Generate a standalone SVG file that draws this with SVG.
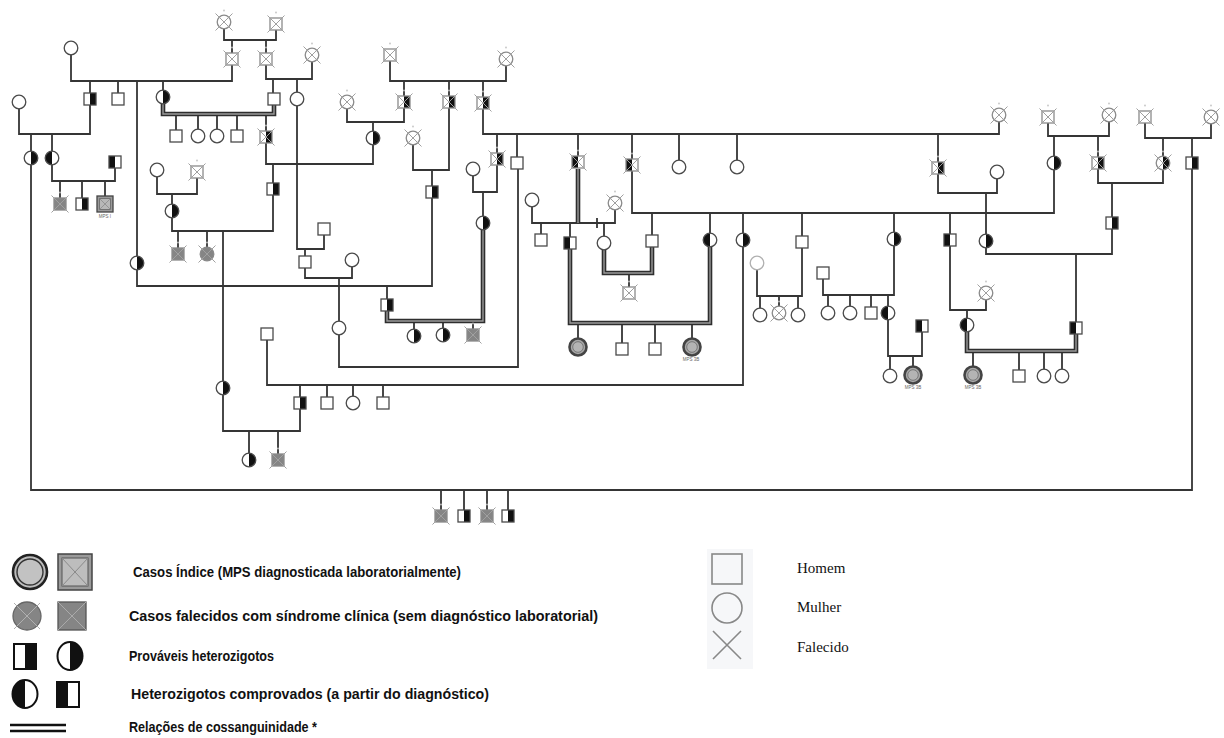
<svg xmlns="http://www.w3.org/2000/svg" width="1224" height="738" viewBox="0 0 1224 738">
<style>
.l{fill:none;stroke:#353535;stroke-width:1.8}
.cg1{fill:none;stroke:#2e2e2e;stroke-width:4.6}
.cg2{fill:none;stroke:#9a9a9a;stroke-width:1.4}
.lv{stroke:#4a4a4a}
.dc{stroke:#8a8a8a}
.lt{stroke:#b0b0b0}
.lg{font-family:"Liberation Sans",Arial,sans-serif;font-weight:bold;font-size:15.5px;fill:#111}
.lr{font-family:"Liberation Serif","Times New Roman",serif;font-size:15px;fill:#111}
.mps{font-family:"Liberation Sans",Arial,sans-serif;font-size:4.5px;fill:#666;text-anchor:middle}
</style>
<defs>
<g id="M"><rect x="-6" y="-6" width="12" height="12" fill="#fff" stroke-width="1.3"/></g>
<g id="Mh"><rect x="-6" y="-6" width="12" height="12" fill="#fff" stroke="none"/><rect x="0" y="-6" width="6" height="12" fill="#111" stroke="none"/><rect x="-6" y="-6" width="12" height="12" fill="none" stroke-width="1.3"/></g>
<g id="Mp"><rect x="-6" y="-6" width="12" height="12" fill="#fff" stroke="none"/><rect x="-6" y="-6" width="6" height="12" fill="#111" stroke="none"/><rect x="-6" y="-6" width="12" height="12" fill="none" stroke-width="1.3"/></g>
<g id="F"><circle r="6.8" fill="#fff" stroke-width="1.3"/></g>
<g id="Fh"><circle r="6.8" fill="#fff" stroke="none"/><path d="M0,-6.8A6.8,6.8 0 0 1 0,6.8Z" fill="#111" stroke="none"/><circle r="6.8" fill="none" stroke-width="1.3"/></g>
<g id="Fp"><circle r="6.8" fill="#fff" stroke="none"/><path d="M0,-6.8A6.8,6.8 0 0 0 0,6.8Z" fill="#111" stroke="none"/><circle r="6.8" fill="none" stroke-width="1.3"/></g>
<g id="Mg"><rect x="-6" y="-6" width="12" height="12" fill="#858585" stroke-width="1.3"/></g>
<g id="Fg"><circle r="6.8" fill="#858585" stroke-width="1.3"/></g>
<g id="X"><path d="M-8.5,-8.5L8.5,8.5M8.5,-8.5L-8.5,8.5" fill="none" stroke="#a0a0a0" stroke-width="1"/><circle cy="-11.5" r="0.9" fill="#c4c4c4" stroke="none"/></g>
<g id="Mi"><rect x="-8" y="-8" width="16" height="16" fill="#9a9a9a" stroke="#444" stroke-width="1.3"/><rect x="-5.5" y="-5.5" width="11" height="11" fill="#b8b8b8" stroke="#666" stroke-width="0.8"/><path d="M-5.5,-5.5L5.5,5.5M5.5,-5.5L-5.5,5.5" fill="none" stroke="#8a8a8a" stroke-width="0.8"/></g>
<g id="Fi"><circle r="8.5" fill="#a8a8a8" stroke="#444" stroke-width="2.6"/><circle r="5.3" fill="#b4b4b4" stroke="#6a6a6a" stroke-width="0.8"/></g>
</defs>
<rect width="1224" height="738" fill="#fff"/>

<g id="connectors">
<path class="l" d="M224,22V40H276V24M232,40V59M266,40V59
M71,48V81H232V59M90,81V99M118,81V99M137,81V263M163,81V97
M266,59V79H312V55M273,79V99M297,79V99
M297,99V249H324V229M305,249V262M305,262V278H352V260M339,278V328M339,328V367H518V163
M390,55V81H506V59M404,81V102M449,81V102M483,81V103
M347,102V122H404V102M373,122V164H266V137M273,164V231H172V211M178,231V254M207,231V254M223,231V431H300V385
M157,170V194H197V172M172,194V211
M413,138V170H449V102M432,170V286H137V263M387,286V305
M483,103V134H999V115M497,134V159M517,134V163M578,134V162M632,134V213H1054V163M679,134V167M737,134V167M938,134V168
M473,169V192H497V159M483,192V223
M532,200V223H615V203M597,218V228M541,223V240M570,223V243M604,223V243
M652,213V241M710,213V240M743,213V385H267V334M802,213V296H757V263M894,213V295H823V273M950,213V310H986V293M967,310V325
M300,385V403M327,385V403M353,385V403M383,385V403
M249,431V460M278,431V460
M760,296V315M779,296V313M798,296V315
M828,295V313M850,295V313M871,295V313M888,295V356H922V326M890,356V376M913,356V375
M938,168V193H997V172M986,193V254H1112V223M1076,254V328
M1048,117V136H1109V115M1054,136V163M1098,136V183H1163V163M1112,183V223
M1145,117V138H1211V117M1163,138V163M1192,138V490H31V158
M19,102V134H90V99M31,134V158M52,134V181H115V162M60,181V204M82,181V204M105,181V204
M441,490V516M464,490V516M487,490V516M508,490V516
M176,114V136M198,114V136M217,114V136M237,114V136M266,114V137
M414,321V336M443,321V335M473,321V335
M629,273V293
M578,323V347M622,323V349M655,323V349M692,323V347
M973,351V375M1019,351V376M1044,351V376M1062,351V376"/>
<path class="cg1" d="M163,104V114H274V105M483,230V321H387V311M578,169V223M604,250V273H652V247M570,249V323H710V247M967,332V351H1076V334"/>
<path class="cg2" d="M163,104V114H274V105M483,230V321H387V311M578,169V223M604,250V273H652V247M570,249V323H710V247M967,332V351H1076V334"/>
</g>

<g id="n1"><use href="#F" class="dc" x="224" y="22"/><use href="#X" x="224" y="22"/></g>
<g id="n2"><use href="#M" class="dc" x="276" y="24"/><use href="#X" x="276" y="24"/></g>
<g id="n3"><use href="#M" class="dc" x="232" y="59"/><use href="#X" x="232" y="59"/></g>
<g id="n4"><use href="#M" class="dc" x="266" y="59"/><use href="#X" x="266" y="59"/></g>
<g id="n5"><use href="#F" class="dc" x="312" y="55"/><use href="#X" x="312" y="55"/></g>
<g id="n6"><use href="#M" class="dc" x="390" y="55"/><use href="#X" x="390" y="55"/></g>
<g id="n7"><use href="#F" class="dc" x="506" y="59"/><use href="#X" x="506" y="59"/></g>
<g id="n8"><use href="#F" class="dc" x="347" y="102"/><use href="#X" x="347" y="102"/></g>
<g id="n9"><use href="#Mh" class="dc" x="404" y="102"/><use href="#X" x="404" y="102"/></g>
<g id="n10"><use href="#Mh" class="dc" x="449" y="102"/><use href="#X" x="449" y="102"/></g>
<g id="n11"><use href="#Mh" class="dc" x="483" y="103"/><use href="#X" x="483" y="103"/></g>
<g id="n12"><use href="#F" class="dc" x="413" y="138"/><use href="#X" x="413" y="138"/></g>
<g id="n13"><use href="#Mh" class="dc" x="266" y="137"/><use href="#X" x="266" y="137"/></g>
<g id="n14"><use href="#M" class="dc" x="197" y="172"/><use href="#X" x="197" y="172"/></g>
<g id="n15"><use href="#Mh" class="dc" x="497" y="159"/><use href="#X" x="497" y="159"/></g>
<g id="n16"><use href="#Mp" class="dc" x="578" y="162"/><use href="#X" x="578" y="162"/></g>
<g id="n17"><use href="#Mp" class="dc" x="632" y="165"/><use href="#X" x="632" y="165"/></g>
<g id="n18"><use href="#Mh" class="dc" x="938" y="168"/><use href="#X" x="938" y="168"/></g>
<g id="n19"><use href="#F" class="dc" x="999" y="115"/><use href="#X" x="999" y="115"/></g>
<g id="n20"><use href="#M" class="dc" x="1048" y="117"/><use href="#X" x="1048" y="117"/></g>
<g id="n21"><use href="#F" class="dc" x="1109" y="115"/><use href="#X" x="1109" y="115"/></g>
<g id="n22"><use href="#M" class="dc" x="1145" y="117"/><use href="#X" x="1145" y="117"/></g>
<g id="n23"><use href="#F" class="dc" x="1211" y="117"/><use href="#X" x="1211" y="117"/></g>
<g id="n24"><use href="#Mh" class="dc" x="1098" y="163"/><use href="#X" x="1098" y="163"/></g>
<g id="n25"><use href="#Fh" class="dc" x="1163" y="163"/><use href="#X" x="1163" y="163"/></g>
<g id="n26"><use href="#F" class="dc" x="615" y="203"/><use href="#X" x="615" y="203"/></g>
<g id="n27"><use href="#M" class="dc" x="629" y="293"/><use href="#X" x="629" y="293"/></g>
<g id="n28"><use href="#F" class="dc" x="779" y="313"/><use href="#X" x="779" y="313"/></g>
<g id="n29"><use href="#F" class="dc" x="986" y="293"/><use href="#X" x="986" y="293"/></g>

<g id="n30"><use href="#F" class="lv" x="71" y="48"/></g>
<g id="n31"><use href="#F" class="lv" x="19" y="102"/></g>
<g id="n32"><use href="#Mh" class="lv" x="90" y="99"/></g>
<g id="n33"><use href="#M" class="lv" x="118" y="99"/></g>
<g id="n34"><use href="#Fh" class="lv" x="163" y="97"/></g>
<g id="n35"><use href="#M" class="lv" x="274" y="99"/></g>
<g id="n36"><use href="#F" class="lv" x="297" y="99"/></g>
<g id="n37"><use href="#M" class="lv" x="176" y="136"/></g>
<g id="n38"><use href="#F" class="lv" x="198" y="136"/></g>
<g id="n39"><use href="#F" class="lv" x="217" y="136"/></g>
<g id="n40"><use href="#M" class="lv" x="237" y="136"/></g>
<g id="n41"><use href="#Fh" class="lv" x="373" y="138"/></g>
<g id="n42"><use href="#Mh" class="lv" x="273" y="189"/></g>
<g id="n43"><use href="#Fh" class="lv" x="172" y="211"/></g>
<g id="n44"><use href="#F" class="lv" x="157" y="170"/></g>
<g id="n45"><use href="#Mg" class="dc" x="178" y="254"/><use href="#X" x="178" y="254"/></g>
<g id="n46"><use href="#Fg" class="dc" x="207" y="254"/><use href="#X" x="207" y="254"/></g>
<g id="n47"><use href="#Fh" class="lv" x="137" y="263"/></g>
<g id="n48"><use href="#Mh" class="lv" x="432" y="192"/></g>
<g id="n49"><use href="#M" class="lv" x="324" y="229"/></g>
<g id="n50"><use href="#M" class="lv" x="305" y="262"/></g>
<g id="n51"><use href="#F" class="lv" x="352" y="260"/></g>
<g id="n52"><use href="#F" class="lv" x="339" y="328"/></g>
<g id="n53"><use href="#Mh" class="lv" x="387" y="305"/></g>
<g id="n54"><use href="#Fh" class="lv" x="414" y="336"/></g>
<g id="n55"><use href="#Fh" class="lv" x="443" y="335"/></g>
<g id="n56"><use href="#Mg" class="dc" x="473" y="335"/><use href="#X" x="473" y="335"/></g>
<g id="n57"><use href="#F" class="lv" x="473" y="169"/></g>
<g id="n58"><use href="#Fh" class="lv" x="483" y="223"/></g>
<g id="n59"><use href="#M" class="lv" x="517" y="163"/></g>
<g id="n60"><use href="#F" class="lv" x="532" y="200"/></g>
<g id="n61"><use href="#M" class="lv" x="541" y="240"/></g>
<g id="n62"><use href="#Mp" class="lv" x="570" y="243"/></g>
<g id="n63"><use href="#F" class="lv" x="604" y="243"/></g>
<g id="n64"><use href="#M" class="lv" x="652" y="241"/></g>
<g id="n65"><use href="#F" class="lv" x="679" y="167"/></g>
<g id="n66"><use href="#F" class="lv" x="737" y="167"/></g>
<g id="n67"><use href="#Fp" class="lv" x="710" y="240"/></g>
<g id="n68"><use href="#Fh" class="lv" x="743" y="240"/></g>
<g id="n69"><use href="#M" class="lv" x="802" y="242"/></g>
<g id="n70"><use href="#Fh" class="lv" x="894" y="239"/></g>
<g id="n71"><use href="#Mp" class="lv" x="950" y="240"/></g>
<g id="n72"><use href="#Fh" class="lv" x="986" y="241"/></g>
<g id="n73"><use href="#F" class="lv" x="997" y="172"/></g>
<g id="n74"><use href="#Fh" class="lv" x="1054" y="163"/></g>
<g id="n75"><use href="#Mh" class="lv" x="1112" y="223"/></g>
<g id="n76"><use href="#Mh" class="lv" x="1192" y="163"/></g>
<g id="n77"><use href="#F" class="lt" x="757" y="263"/></g>
<g id="n78"><use href="#F" class="lv" x="760" y="315"/></g>
<g id="n79"><use href="#F" class="lv" x="798" y="315"/></g>
<g id="n80"><use href="#M" class="lv" x="823" y="273"/></g>
<g id="n81"><use href="#F" class="lv" x="828" y="313"/></g>
<g id="n82"><use href="#F" class="lv" x="850" y="313"/></g>
<g id="n83"><use href="#M" class="lv" x="871" y="313"/></g>
<g id="n84"><use href="#Fp" class="lv" x="888" y="313"/></g>
<g id="n85"><use href="#Mp" class="lv" x="922" y="326"/></g>
<g id="n86"><use href="#F" class="lv" x="890" y="376"/></g>
<g id="n87"><use href="#Fi" x="913" y="375"/><text class="mps" x="913" y="389">MPS 3B</text></g>
<g id="n88"><use href="#Fp" class="lv" x="967" y="325"/></g>
<g id="n89"><use href="#Mp" class="lv" x="1076" y="328"/></g>
<g id="n90"><use href="#Fi" x="973" y="375"/><text class="mps" x="973" y="389">MPS 3B</text></g>
<g id="n91"><use href="#M" class="lv" x="1019" y="376"/></g>
<g id="n92"><use href="#F" class="lv" x="1044" y="376"/></g>
<g id="n93"><use href="#F" class="lv" x="1062" y="376"/></g>
<g id="n94"><use href="#Fi" x="578" y="347"/></g>
<g id="n95"><use href="#M" class="lv" x="622" y="349"/></g>
<g id="n96"><use href="#M" class="lv" x="655" y="349"/></g>
<g id="n97"><use href="#Fi" x="692" y="347"/><text class="mps" x="691" y="361">MPS 3B</text></g>
<g id="n98"><use href="#M" class="lv" x="267" y="334"/></g>
<g id="n99"><use href="#Mh" class="lv" x="300" y="403"/></g>
<g id="n100"><use href="#M" class="lv" x="327" y="403"/></g>
<g id="n101"><use href="#F" class="lv" x="353" y="403"/></g>
<g id="n102"><use href="#M" class="lv" x="383" y="403"/></g>
<g id="n103"><use href="#Fh" class="lv" x="223" y="388"/></g>
<g id="n104"><use href="#Fh" class="lv" x="249" y="460"/></g>
<g id="n105"><use href="#Mg" class="dc" x="278" y="460"/><use href="#X" x="278" y="460"/></g>
<g id="n106"><use href="#Fh" class="lv" x="31" y="158"/></g>
<g id="n107"><use href="#Fp" class="lv" x="52" y="158"/></g>
<g id="n108"><use href="#Mp" class="lv" x="115" y="162"/></g>
<g id="n109"><use href="#Mg" class="dc" x="60" y="204"/><use href="#X" x="60" y="204"/></g>
<g id="n110"><use href="#Mh" class="lv" x="82" y="204"/></g>
<g id="n111"><use href="#Mi" x="105" y="204"/><text class="mps" x="105" y="218">MPS I</text></g>
<g id="n112"><use href="#Mg" class="dc" x="441" y="516"/><use href="#X" x="441" y="516"/></g>
<g id="n113"><use href="#Mh" class="lv" x="464" y="516"/></g>
<g id="n114"><use href="#Mg" class="dc" x="487" y="516"/><use href="#X" x="487" y="516"/></g>
<g id="n115"><use href="#Mh" class="lv" x="508" y="516"/></g>

<g id="legend">
<circle cx="30" cy="572" r="17" fill="#bdbdbd" stroke="#222" stroke-width="2.6"/>
<circle cx="30" cy="572" r="13" fill="#c2c2c2" stroke="#333" stroke-width="1.4"/>
<rect x="58" y="554" width="34" height="36" fill="#9a9a9a" stroke="#444" stroke-width="1.5"/>
<rect x="62" y="558" width="26" height="28" fill="#bdbdbd" stroke="#555" stroke-width="1"/>
<path d="M62,558L88,586M88,558L62,586" stroke="#8a8a8a" stroke-width="1" fill="none"/>
<text class="lg" x="133" y="577" textLength="328" lengthAdjust="spacingAndGlyphs">Casos Índice (MPS diagnosticada laboratorialmente)</text>

<circle cx="27" cy="616" r="14" fill="#858585" stroke="#666" stroke-width="1.3"/>
<path d="M14,603L40,629M40,603L14,629" stroke="#b0b0b0" stroke-width="1" fill="none"/>
<rect x="58" y="602" width="28" height="28" fill="#858585" stroke="#555" stroke-width="1.3"/>
<path d="M58,602L86,630M86,602L58,630" stroke="#aaa" stroke-width="1" fill="none"/>
<text class="lg" x="129" y="621" textLength="469" lengthAdjust="spacingAndGlyphs">Casos falecidos com síndrome clínica (sem diagnóstico laboratorial)</text>

<rect x="14" y="644" width="11" height="25" fill="#fff"/>
<rect x="25" y="644" width="11" height="25" fill="#111"/>
<rect x="14" y="644" width="22" height="25" fill="none" stroke="#111" stroke-width="2"/>
<path d="M70,642A12.5,14 0 0 1 70,670Z" fill="#111"/>
<ellipse cx="70" cy="656" rx="12.5" ry="14" fill="none" stroke="#111" stroke-width="2"/>
<text class="lg" x="129" y="661" textLength="145" lengthAdjust="spacingAndGlyphs">Prováveis heterozigotos</text>

<path d="M25,680A12.5,14 0 0 0 25,708Z" fill="#111"/>
<ellipse cx="25" cy="694" rx="12.5" ry="14" fill="none" stroke="#111" stroke-width="2"/>
<rect x="57" y="682" width="11" height="25" fill="#111"/>
<rect x="57" y="682" width="22" height="25" fill="none" stroke="#111" stroke-width="2"/>
<text class="lg" x="131" y="699" textLength="358" lengthAdjust="spacingAndGlyphs">Heterozigotos comprovados (a partir do diagnóstico)</text>

<path d="M10,725H66M10,731H66" stroke="#111" stroke-width="2.4" fill="none"/>
<text class="lg" x="129" y="732" textLength="188" lengthAdjust="spacingAndGlyphs">Relações de cossanguinidade *</text>

<rect x="707" y="549" width="46" height="120" fill="#f6f7f9"/>
<rect x="712" y="554" width="30" height="30" fill="none" stroke="#888" stroke-width="1.6"/>
<circle cx="727" cy="608" r="15" fill="none" stroke="#888" stroke-width="1.6"/>
<path d="M713,631L741,659M741,631L713,659" stroke="#888" stroke-width="1.6" fill="none"/>
<text class="lr" x="797" y="573">Homem</text>
<text class="lr" x="797" y="612">Mulher</text>
<text class="lr" x="797" y="652">Falecido</text>
</g>
</svg>
